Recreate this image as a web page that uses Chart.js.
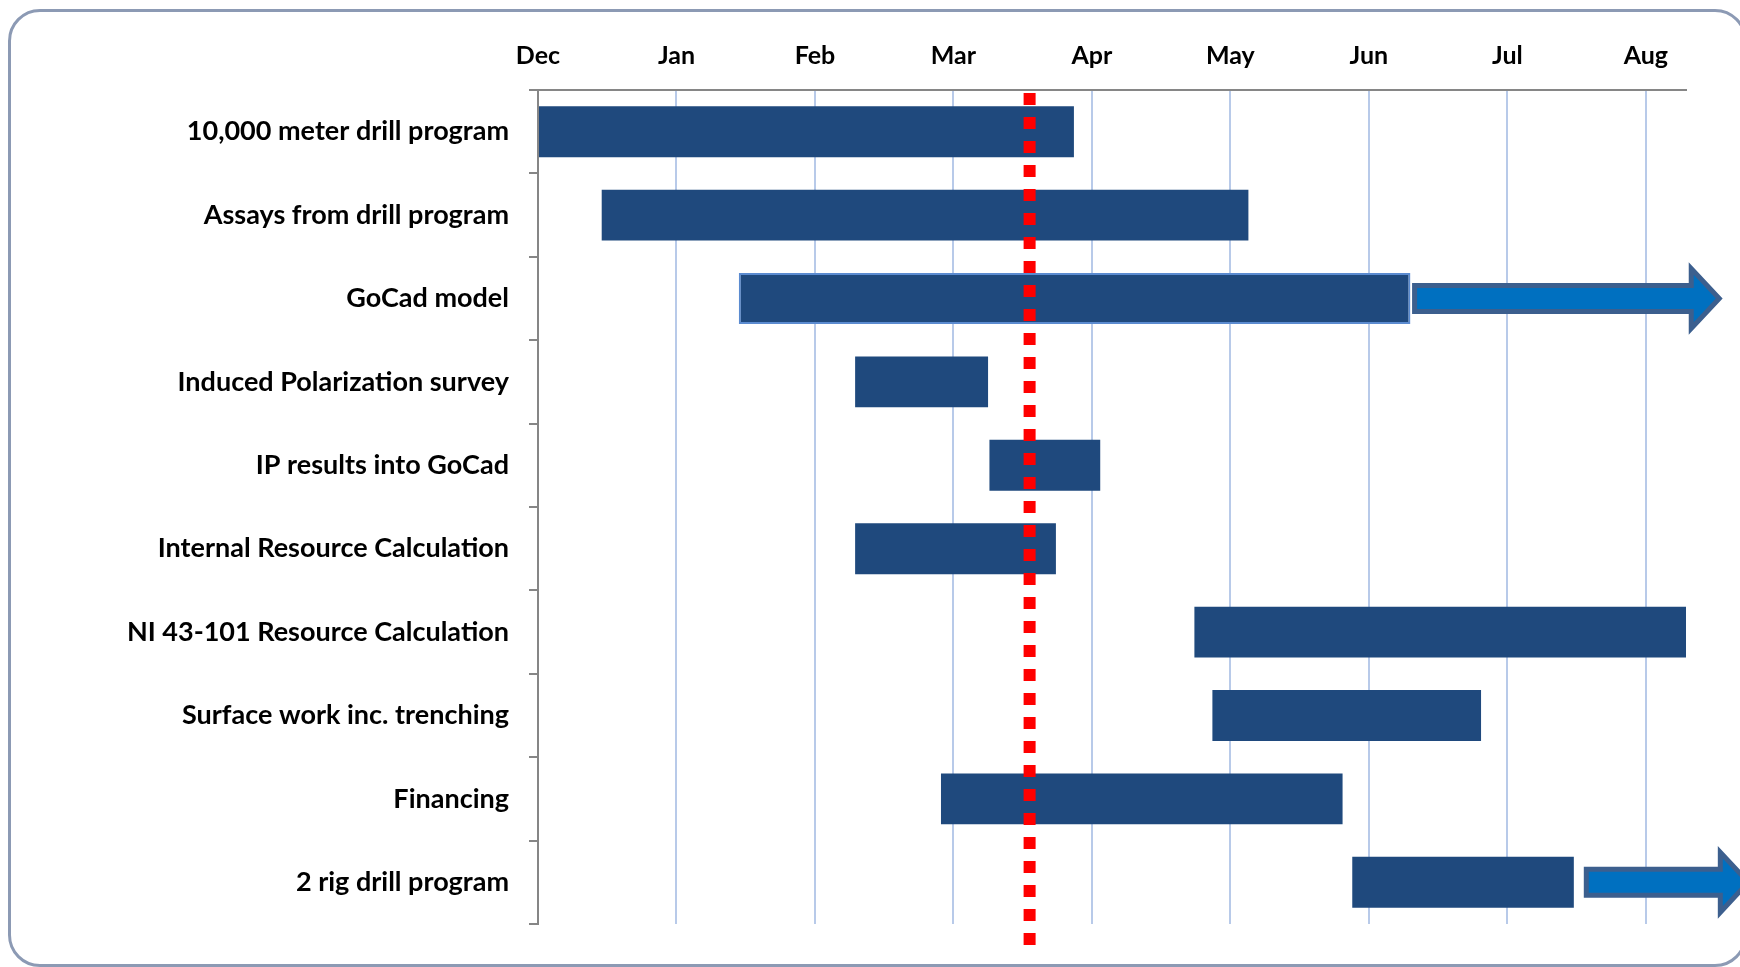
<!DOCTYPE html>
<html>
<head>
<meta charset="utf-8">
<title>Project schedule</title>
<script src="https://cdn.jsdelivr.net/npm/chart.js@4.4.1/dist/chart.umd.min.js"></script>
<style>
    html, body { margin: 0; padding: 0; background: #fff; }
    #wrap { position: relative; width: 1740px; height: 967px; overflow: hidden; }
    #frame {
        position: absolute; left: 8px; top: 9px; width: 1733px; height: 952px;
        border: 3px solid #8c9ab4; border-radius: 32px;
    }
    canvas { position: absolute; left: 0; top: 0; }
</style>
</head>
<body>
<div id="wrap">
    <div id="frame"></div>
    <canvas id="chart" width="1740" height="967"></canvas>
</div>
<script>
// Tasks, top to bottom
const tasks = [
    '10,000 meter drill program',
    'Assays from drill program',
    'GoCad model',
    'Induced Polarization survey',
    'IP results into GoCad',
    'Internal Resource Calculation',
    'NI 43-101 Resource Calculation',
    'Surface work inc. trenching',
    'Financing',
    '2 rig drill program'
];

// Months since start of Dec (0 = Dec, 1 = Jan, ...)
const startMonth = [0.00, 0.46, 1.45, 2.29, 3.26, 2.29, 4.74, 4.87, 2.91, 5.88];
const endMonth   = [3.87, 5.13, 6.30, 3.25, 4.06, 3.74, 8.29, 6.81, 5.81, 7.48];

// Continuation arrows (null = none)
const arrowFrom = [null, null, 6.33, null, null, null, null, null, null, 7.57];
const arrowTo   = [null, null, 8.53, null, null, null, null, null, null, 8.74];

const monthLabels = ['Dec', 'Jan', 'Feb', 'Mar', 'Apr', 'May', 'Jun', 'Jul', 'Aug'];
const axisMax = 8.29;
const todayMonth = 3.55;

const taskFont = { family: 'Lato', size: 27, weight: 'bold' };
const monthFont = { family: 'Lato', size: 25, weight: 'bold' };

// Draws the continuation arrows and the red "today" line
const overlayPlugin = {
    id: 'overlay',
    afterDatasetsDraw(chart) {
        const ctx = chart.ctx;
        const xs = chart.scales.x;
        const ys = chart.scales.y;
        const area = chart.chartArea;

        ctx.save();
        arrowFrom.forEach((from, i) => {
            if (from === null) return;
            const x0 = xs.getPixelForValue(from);
            const x1 = xs.getPixelForValue(arrowTo[i]);
            const cy = ys.getPixelForValue(i);
            const shaft = 13, head = 30, headLen = 28;
            ctx.beginPath();
            ctx.moveTo(x0, cy - shaft);
            ctx.lineTo(x1 - headLen, cy - shaft);
            ctx.lineTo(x1 - headLen, cy - head);
            ctx.lineTo(x1, cy);
            ctx.lineTo(x1 - headLen, cy + head);
            ctx.lineTo(x1 - headLen, cy + shaft);
            ctx.lineTo(x0, cy + shaft);
            ctx.closePath();
            ctx.fillStyle = '#0070c0';
            ctx.fill();
            ctx.lineWidth = 5;
            ctx.lineJoin = 'miter';
            ctx.strokeStyle = '#3c5f8e';
            ctx.stroke();
        });

        const px = xs.getPixelForValue(todayMonth);
        ctx.beginPath();
        ctx.setLineDash([12, 12]);
        ctx.lineWidth = 12;
        ctx.lineCap = 'butt';
        ctx.strokeStyle = '#ff0000';
        ctx.moveTo(px, area.top + 3);
        ctx.lineTo(px, area.bottom + 27);
        ctx.stroke();
        ctx.restore();
    }
};

new Chart(document.getElementById('chart'), {
    type: 'bar',
    data: {
        labels: tasks,
        datasets: [{
            data: startMonth.map((s, i) => [s, endMonth[i]]),
            backgroundColor: '#1f497d',
            borderColor: tasks.map((t, i) => i === 2 ? '#5b8bd0' : '#1f497d'),
            borderWidth: tasks.map((t, i) => i === 2 ? 2 : 0),
            borderSkipped: false,
            barPercentage: 0.61,
            categoryPercentage: 1
        }]
    },
    options: {
        indexAxis: 'y',
        responsive: false,
        animation: false,
        layout: { padding: { top: 0, left: 0, right: 54, bottom: 43 } },
        plugins: { legend: { display: false }, tooltip: { enabled: false } },
        scales: {
            x: {
                type: 'linear',
                position: 'top',
                min: 0,
                max: axisMax,
                afterBuildTicks: s => { s.ticks = monthLabels.map((m, i) => ({ value: i })); },
                afterFit: s => { s.height = 90; },
                grid: { color: '#b8cae9', lineWidth: 2, drawTicks: false },
                border: { color: '#868686', width: 2 },
                ticks: {
                    font: monthFont,
                    color: '#000',
                    padding: 19,
                    maxRotation: 0,
                    callback: v => monthLabels[v]
                }
            },
            y: {
                type: 'category',
                afterFit: s => { s.width = 538; },
                grid: { offset: true, drawOnChartArea: false, color: '#868686', lineWidth: 2, tickLength: 9 },
                border: { color: '#868686', width: 2 },
                ticks: { font: taskFont, color: '#000', padding: 20 }
            }
        }
    },
    plugins: [overlayPlugin]
});
</script>
</body>
</html>
